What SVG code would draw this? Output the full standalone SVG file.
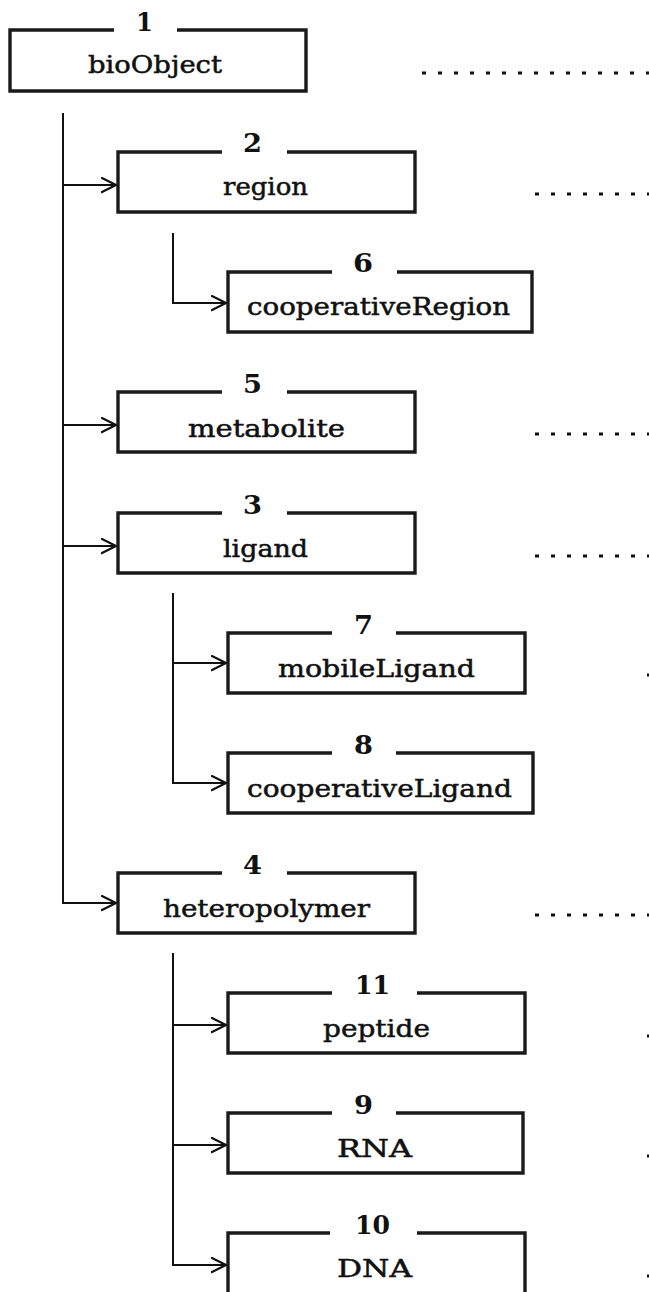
<svg xmlns="http://www.w3.org/2000/svg" width="649" height="1292" viewBox="0 0 649 1292">
<style>
.box{fill:none;stroke:#1a1a1a;stroke-width:3.4}
.lbl{font-family:"DejaVu Serif","Liberation Serif",serif;font-size:24px;fill:#111;stroke:#111;stroke-width:0.5;text-anchor:middle}
.num{font-family:"DejaVu Serif","Liberation Serif",serif;font-size:26px;font-weight:bold;fill:#111}
.con{fill:none;stroke:#111;stroke-width:2}
.dot{stroke:#111;stroke-width:3.2;stroke-dasharray:4 12}
</style>
<defs>
<marker id="arr" markerUnits="userSpaceOnUse" markerWidth="18" markerHeight="18" refX="15" refY="8" orient="auto">
<path d="M0,0.5 L15,8 L0,15.5" fill="none" stroke="#111" stroke-width="2.2"/>
</marker>
</defs>
<rect width="649" height="1292" fill="#fff"/>

<g id="connectors">
<path class="con" d="M63,113 V903 H116" marker-end="url(#arr)"/>
<path class="con" d="M63,185 H116" marker-end="url(#arr)"/>
<path class="con" d="M63,425 H116" marker-end="url(#arr)"/>
<path class="con" d="M63,546 H116" marker-end="url(#arr)"/>
<path class="con" d="M173,233 V303 H226" marker-end="url(#arr)"/>
<path class="con" d="M173,593 V783 H226" marker-end="url(#arr)"/>
<path class="con" d="M173,663 H226" marker-end="url(#arr)"/>
<path class="con" d="M173,953 V1265 H226" marker-end="url(#arr)"/>
<path class="con" d="M173,1025 H226" marker-end="url(#arr)"/>
<path class="con" d="M173,1145 H226" marker-end="url(#arr)"/>
</g>

<g id="n1">
<path class="box" d="M114,30 H10 V91 H306 V30 H177"/>
<text class="num" x="136" y="31" textLength="17" lengthAdjust="spacingAndGlyphs">1</text>
<text class="lbl" x="155" y="73" textLength="134" lengthAdjust="spacingAndGlyphs">bioObject</text>
<line class="dot" x1="422" y1="73" x2="652" y2="73"/>
</g>

<g id="n2">
<path class="box" d="M222,152 H118 V212 H415 V152 H287"/>
<text class="num" x="243" y="152" textLength="19" lengthAdjust="spacingAndGlyphs">2</text>
<text class="lbl" x="265.5" y="195" textLength="85" lengthAdjust="spacingAndGlyphs">region</text>
<line class="dot" x1="535" y1="194" x2="652" y2="194"/>
</g>

<g id="n6">
<path class="box" d="M332,272 H228 V332 H532 V272 H397"/>
<text class="num" x="353" y="272" textLength="20" lengthAdjust="spacingAndGlyphs">6</text>
<text class="lbl" x="378.5" y="315" textLength="263" lengthAdjust="spacingAndGlyphs">cooperativeRegion</text>
</g>

<g id="n5">
<path class="box" d="M222,392 H118 V452 H415 V392 H287"/>
<text class="num" x="243" y="393" textLength="19" lengthAdjust="spacingAndGlyphs">5</text>
<text class="lbl" x="266.5" y="437" textLength="157" lengthAdjust="spacingAndGlyphs">metabolite</text>
<line class="dot" x1="535" y1="434" x2="652" y2="434"/>
</g>

<g id="n3">
<path class="box" d="M222,513 H118 V573 H415 V513 H287"/>
<text class="num" x="243" y="514" textLength="19" lengthAdjust="spacingAndGlyphs">3</text>
<text class="lbl" x="265.5" y="557" textLength="85" lengthAdjust="spacingAndGlyphs">ligand</text>
<line class="dot" x1="535" y1="556" x2="652" y2="556"/>
</g>

<g id="n7">
<path class="box" d="M332,633 H228 V693 H525 V633 H396"/>
<text class="num" x="354" y="634" textLength="19" lengthAdjust="spacingAndGlyphs">7</text>
<text class="lbl" x="376.5" y="677" textLength="197" lengthAdjust="spacingAndGlyphs">mobileLigand</text>
<line class="dot" x1="647" y1="675" x2="652" y2="675"/>
</g>

<g id="n8">
<path class="box" d="M332,753 H228 V813 H533 V753 H396"/>
<text class="num" x="354" y="754" textLength="19" lengthAdjust="spacingAndGlyphs">8</text>
<text class="lbl" x="379.5" y="797" textLength="265" lengthAdjust="spacingAndGlyphs">cooperativeLigand</text>
</g>

<g id="n4">
<path class="box" d="M222,873 H118 V933 H415 V873 H287"/>
<text class="num" x="243" y="874" textLength="19" lengthAdjust="spacingAndGlyphs">4</text>
<text class="lbl" x="266.5" y="917" textLength="207" lengthAdjust="spacingAndGlyphs">heteropolymer</text>
<line class="dot" x1="535" y1="915" x2="652" y2="915"/>
</g>

<g id="n11">
<path class="box" d="M332,993 H228 V1053 H525 V993 H417"/>
<text class="num" x="355" y="994" textLength="35" lengthAdjust="spacingAndGlyphs">11</text>
<text class="lbl" x="376.5" y="1037" textLength="107" lengthAdjust="spacingAndGlyphs">peptide</text>
<line class="dot" x1="647" y1="1036" x2="652" y2="1036"/>
</g>

<g id="n9">
<path class="box" d="M332,1113 H228 V1173 H523 V1113 H396"/>
<text class="num" x="354" y="1114" textLength="19" lengthAdjust="spacingAndGlyphs">9</text>
<text class="lbl" x="374.5" y="1157" textLength="75" lengthAdjust="spacingAndGlyphs">RNA</text>
<line class="dot" x1="647" y1="1156" x2="652" y2="1156"/>
</g>

<g id="n10">
<path class="box" d="M330,1233 H228 V1300 M525,1300 V1233 H417"/>
<text class="num" x="355" y="1234" textLength="35" lengthAdjust="spacingAndGlyphs">10</text>
<text class="lbl" x="374.5" y="1277" textLength="75" lengthAdjust="spacingAndGlyphs">DNA</text>
<line class="dot" x1="647" y1="1276" x2="652" y2="1276"/>
</g>
</svg>
